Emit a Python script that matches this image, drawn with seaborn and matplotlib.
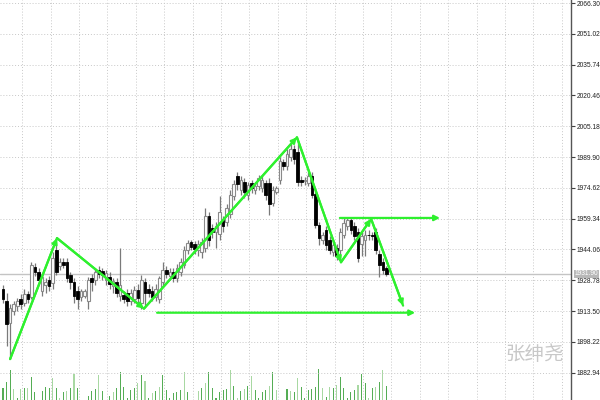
import numpy as np
import matplotlib
matplotlib.use("Agg")
import matplotlib.pyplot as plt
import matplotlib.transforms as mtransforms
import seaborn as sns

# --- dados (preço por candle) ---
opens = [1924.7, 1918.7, 1907.7, 1913.7, 1916.2, 1919.7, 1917.7, 1922.2, 1920.7, 1935.2,
         1932.7, 1923.7, 1926.2, 1928.7, 1927.2, 1943.7, 1935.7, 1937.7, 1937.7, 1931.2,
         1927.7, 1923.7, 1920.7, 1921.2, 1918.7, 1929.7, 1928.7, 1933.7, 1933.2, 1928.7,
         1930.2, 1925.7, 1927.7, 1921.2, 1921.7, 1922.7, 1918.7, 1919.7, 1924.2, 1917.7,
         1927.7, 1924.7, 1923.7, 1920.7, 1919.7, 1927.7, 1933.7, 1930.7, 1932.7, 1929.7,
         1932.7, 1936.2, 1943.7, 1947.7, 1946.7, 1943.7, 1942.7, 1944.7, 1960.7, 1954.7,
         1952.7, 1951.7, 1958.7, 1957.7, 1961.7, 1970.7, 1980.7, 1973.7, 1977.7, 1971.2,
         1977.2, 1973.7, 1975.7, 1974.7, 1977.2, 1977.2, 1967.2, 1972.7, 1978.7, 1987.2,
         1985.7, 1989.7, 1993.7, 1992.2, 1978.7, 1978.2, 1977.2, 1980.7, 1971.7, 1956.2,
         1948.7, 1953.7, 1948.7, 1942.7, 1944.7, 1943.7, 1951.2, 1955.7, 1958.7, 1955.7,
         1952.7, 1946.7, 1948.7, 1951.2, 1951.2, 1952.7, 1941.7, 1937.7, 1934.7]
highs = [1926.2, 1922.7, 1917.2, 1918.7, 1920.2, 1922.2, 1924.7, 1923.7, 1937.7, 1937.2,
         1934.7, 1931.7, 1929.7, 1930.7, 1942.7, 1949.7, 1939.7, 1939.7, 1939.7, 1932.7,
         1929.7, 1925.7, 1924.7, 1924.7, 1930.2, 1931.7, 1934.7, 1935.7, 1934.7, 1933.7,
         1932.7, 1929.7, 1929.7, 1944.7, 1923.7, 1924.7, 1924.7, 1925.7, 1926.7, 1931.2,
         1929.7, 1926.7, 1925.7, 1926.7, 1930.7, 1937.7, 1935.7, 1934.7, 1934.7, 1936.7,
         1939.7, 1945.7, 1948.7, 1948.7, 1948.2, 1948.7, 1949.7, 1964.7, 1962.7, 1956.7,
         1957.7, 1970.7, 1960.7, 1966.7, 1973.7, 1978.7, 1982.7, 1980.7, 1979.7, 1977.7,
         1978.7, 1977.2, 1981.2, 1980.7, 1978.7, 1979.7, 1975.7, 1975.7, 1989.7, 1988.7,
         1993.7, 1996.2, 1995.7, 1997.2, 1980.7, 1980.2, 1982.7, 1982.7, 1973.7, 1957.7,
         1952.7, 1955.7, 1950.7, 1947.7, 1946.7, 1954.7, 1959.7, 1959.7, 1959.7, 1957.7,
         1954.7, 1952.7, 1953.7, 1953.7, 1952.7, 1954.7, 1943.7, 1939.7, 1935.7]
lows = [1917.7, 1896.2, 1889.7, 1911.7, 1913.7, 1914.7, 1916.2, 1917.7, 1919.7, 1930.7,
        1927.2, 1921.2, 1922.7, 1923.7, 1924.7, 1931.2, 1933.7, 1934.7, 1927.7, 1924.7,
        1917.7, 1914.7, 1918.7, 1920.2, 1914.7, 1923.7, 1926.2, 1929.7, 1928.7, 1926.2,
        1924.7, 1922.7, 1920.7, 1918.7, 1917.7, 1916.2, 1916.7, 1917.7, 1916.2, 1914.7,
        1915.7, 1920.7, 1918.7, 1918.7, 1917.7, 1925.7, 1929.7, 1928.7, 1927.7, 1927.7,
        1930.7, 1934.7, 1941.7, 1943.7, 1941.7, 1940.7, 1939.7, 1942.7, 1945.7, 1949.7,
        1944.7, 1948.7, 1952.7, 1955.7, 1959.7, 1968.7, 1973.7, 1971.2, 1969.7, 1968.7,
        1972.2, 1971.7, 1973.7, 1972.7, 1968.7, 1961.2, 1965.7, 1971.7, 1976.7, 1983.7,
        1983.7, 1987.7, 1986.7, 1975.7, 1975.7, 1976.2, 1975.7, 1969.7, 1954.7, 1946.2,
        1946.7, 1943.7, 1941.7, 1940.7, 1938.7, 1938.7, 1949.7, 1953.7, 1951.7, 1948.7,
        1937.7, 1940.7, 1940.7, 1948.7, 1948.7, 1941.7, 1930.2, 1931.7, 1930.7]
closes = [1919.7, 1907.2, 1915.2, 1917.2, 1918.7, 1917.2, 1922.2, 1919.7, 1936.2, 1932.7,
          1928.7, 1930.2, 1927.7, 1925.7, 1939.7, 1932.7, 1937.7, 1936.2, 1929.7, 1927.7,
          1921.2, 1919.7, 1923.7, 1923.7, 1928.7, 1927.7, 1932.7, 1931.7, 1931.2, 1932.2,
          1926.7, 1928.2, 1922.7, 1926.2, 1919.7, 1918.7, 1922.7, 1924.2, 1920.2, 1928.7,
          1922.7, 1922.7, 1920.7, 1924.7, 1929.7, 1933.7, 1931.7, 1932.7, 1929.7, 1934.7,
          1937.7, 1943.7, 1947.2, 1945.2, 1944.2, 1946.7, 1947.7, 1960.7, 1948.7, 1952.7,
          1955.7, 1962.7, 1955.7, 1964.7, 1971.2, 1976.7, 1976.7, 1978.7, 1972.7, 1976.2,
          1974.7, 1975.7, 1979.7, 1978.7, 1971.2, 1966.7, 1973.7, 1974.7, 1987.7, 1985.7,
          1991.2, 1993.7, 1988.7, 1977.7, 1977.7, 1978.7, 1980.7, 1971.2, 1956.2, 1949.7,
          1951.2, 1946.2, 1943.7, 1946.2, 1940.7, 1952.7, 1957.2, 1958.7, 1953.7, 1950.7,
          1939.7, 1950.7, 1951.2, 1951.0, 1950.7, 1943.7, 1936.2, 1933.7, 1931.7]
volumes = [1170, 1770, 3000, 1100, 170, 1100, 1200, 1200, 2270, 800,
           50, 900, 1270, 1200, 2200, 1200, 200, 800, 900, 1200,
           2600, 1200, 50, 50, 400, 900, 1100, 2500, 900, 50,
           400, 800, 1200, 2800, 1300, 200, 1000, 1200, 1700, 2500,
           1900, 200, 700, 900, 1300, 2500, 1000, 200, 700, 800,
           1000, 2800, 800, 50, 50, 900, 1170, 1700, 2800, 1170,
           170, 800, 1000, 1100, 3000, 1400, 170, 900, 1100, 1400,
           2400, 1000, 170, 800, 1000, 1400, 2800, 1000, 50, 50,
           1100, 900, 800, 2200, 1300, 200, 1000, 1100, 1300, 3100,
           1200, 300, 1300, 1200, 1500, 2300, 1200, 200, 800, 1000,
           1500, 2600, 1700, 200, 1200, 1300, 1800, 3000, 1400]
vol_tom = [1, 1, 1, 0, 1, 0, 1, 0, 1, 1,
           1, 1, 1, 1, 0, 1, 0, 1, 0, 1,
           0, 1, 1, 1, 1, 1, 1, 0, 1, 1,
           1, 0, 1, 1, 1, 1, 1, 1, 0, 1,
           0, 1, 0, 1, 0, 1, 1, 1, 1, 1,
           1, 0, 1, 1, 1, 0, 1, 0, 1, 1,
           1, 1, 1, 1, 0, 1, 0, 1, 0, 1,
           0, 1, 1, 1, 1, 0, 1, 0, 1, 1,
           1, 0, 1, 0, 1, 1, 1, 1, 1, 1,
           0, 1, 0, 1, 0, 1, 1, 1, 1, 1,
           0, 1, 1, 0, 1, 0, 1, 0, 1]

# zigue-zague (índice do candle, preço)
zz_idx = [2.0, 15.2, 39.7, 82.8, 95.2, 103.7, 112.7]
zz_preco = [1889.7, 1949.7, 1914.7, 1999.7, 1937.7, 1959.2, 1916.2]
# linhas horizontais com seta: (início, fim, preço)
niveis = [(94.9, 123.1, 1959.7), (43.4, 116.1, 1912.7)]

rotulos_preco = ["1882.94", "1898.22", "1913.50", "1928.78", "1944.06", "1959.34",
                 "1974.62", "1989.90", "2005.18", "2020.46", "2035.74", "2051.02", "2066.30"]
preco_atual = 1931.9

VERDE = '#2ef02e'

sns.set_style("white")
plt.rcParams['font.family'] = ['Liberation Sans', 'DejaVu Sans']

fig = plt.figure(figsize=(6, 4), dpi=100)
ax = fig.add_axes([0, 0, 571 / 600, 1])

idx = np.arange(len(opens))
o = np.array(opens); c = np.array(closes)
h = np.array(highs); l = np.array(lows)
alta = c >= o

# volume (eixo gêmeo, atrás dos candles)
ax2 = ax.twinx()
cores_vol = ['#55ad55' if t else '#a8d8a2' for t in vol_tom]
ax2.bar(idx, volumes, width=0.3, color=cores_vol, lw=0, antialiased=False)
ax2.set_ylim(0, 40000)
ax2.set_yticks([])
ax2.grid(False)
for lado in ['top', 'left', 'bottom', 'right']:
    ax2.spines[lado].set_visible(False)
ax2.set_zorder(0)
ax.set_zorder(1)
ax.patch.set_visible(False)

# pavios
ax.vlines(idx, l, h, color='#7a7a7a', lw=0.9, zorder=3)
# corpos
base = np.minimum(o, c)
altura = np.maximum(np.abs(c - o), 0.4)
ax.bar(idx[alta], altura[alta], bottom=base[alta], width=0.75,
       facecolor='white', edgecolor='#8a8a8a', lw=0.8, zorder=4)
ax.bar(idx[~alta], altura[~alta], bottom=base[~alta], width=0.75,
       facecolor='black', edgecolor='black', lw=0.6, zorder=4)

# preço atual
ax.axhline(preco_atual, color='#c4c4c4', lw=1, zorder=2)

# zigue-zague
sns.lineplot(x=zz_idx, y=zz_preco, sort=False, color=VERDE, lw=1.6, ax=ax, zorder=6)
for k in range(len(zz_idx) - 1):
    ax.annotate("", xy=(zz_idx[k + 1], zz_preco[k + 1]), xytext=(zz_idx[k], zz_preco[k]),
                arrowprops=dict(arrowstyle='-|>', color=VERDE, lw=1.6,
                                mutation_scale=8, shrinkA=0, shrinkB=0), zorder=6)
for x0, x1, p in niveis:
    ax.annotate("", xy=(x1, p), xytext=(x0, p),
                arrowprops=dict(arrowstyle='-|>', color=VERDE, lw=1.6,
                                mutation_scale=8, shrinkA=0, shrinkB=0), zorder=6)

ax.set_xlim(-0.85, 160)
ax.set_ylim(1869.4, 2067.8)
ax.set_xticks(np.arange(5.4, 160, 8))
ax.set_xticklabels([])
ax.tick_params(axis='x', length=0)
ax.set_yticks([float(v) for v in rotulos_preco])
ax.set_yticklabels(rotulos_preco)
ax.yaxis.tick_right()
ax.tick_params(axis='y', length=3, width=0.8, color='#404040', labelsize=4.8,
               pad=1, labelcolor='#202020', left=False, labelleft=False,
               right=True, labelright=True)
ax.grid(True, linestyle=(0, (1, 2)), color='#c8c8c8', lw=0.7)
for lado in ['top', 'left', 'bottom']:
    ax.spines[lado].set_visible(False)
ax.spines['right'].set_color('#555555')
ax.spines['right'].set_linewidth(1)

trans = mtransforms.blended_transform_factory(ax.transAxes, ax.transData)
ax.text(1.006, preco_atual, "1931.90", transform=trans, fontsize=4.8, color='white',
        va='center', ha='left', zorder=10,
        bbox=dict(facecolor='#b8b8b8', edgecolor='none', pad=0.6), clip_on=False)

fig.text(535 / 600, 1 - 355 / 400, "张绅尧", fontsize=14, color='#c8c8c8',
         ha='center', va='center', family=['Noto Sans CJK SC', 'DejaVu Sans'])

plt.savefig('out.png', dpi=100)
plt.close()
